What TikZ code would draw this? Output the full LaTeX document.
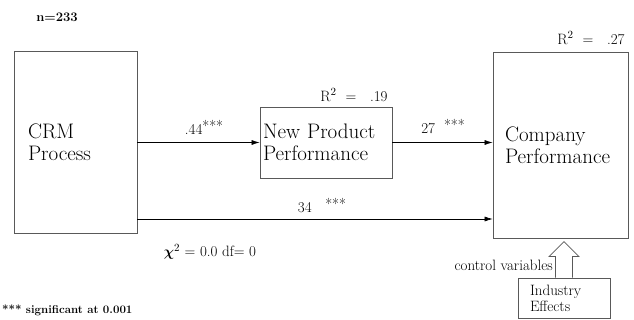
\documentclass[tikz,border=0pt]{standalone}
\usepackage{amsmath}
\usetikzlibrary{arrows.meta,positioning}

\newcommand{\stars}{\raisebox{3pt}{***}}

\begin{document}
\begin{tikzpicture}[x=1pt, y=-1pt,
    box/.style={draw=black!65, line width=0.8pt, align=left, inner sep=0pt, font=\rmfamily\fontsize{21}{22}\selectfont},
    lbl/.style={inner sep=0pt, font=\rmfamily\fontsize{15}{18}\selectfont},
    arr/.style={-{Latex[length=8pt,width=5pt]}, line width=0.6pt}]
    \useasboundingbox (0,0) rectangle (634,320);
    \node[box, minimum width=123pt, minimum height=182pt, text width=95pt] (crm) at (75.5,142) {CRM\\Process};
    \node[box, minimum width=132pt, minimum height=71pt, text width=126pt] (npp) at (326,142.5) {New Product\\Performance};
    \node[box, minimum width=135pt, minimum height=186pt, text width=111pt] (comp) at (560.5,145) {Company\\Performance};
    \node[box, minimum width=92pt, minimum height=40pt, text width=68pt, font=\rmfamily\fontsize{15}{16}\selectfont] (ind) at (564,298) {Industry\\Effects};
    \node[lbl, font=\rmfamily\bfseries\fontsize{13}{16}\selectfont] (nobs) at (57,17) {n=233};
    \node[lbl] (r19) at (354,95) {R$^2$ \ = \ \ .19};
    \node[lbl] (r27) at (591,38) {R$^2$ \ = \ \ .27};
    \node[lbl] (b44) at (204,127) {.44\stars};
    \node[lbl] (b27) at (443,127) {27\ \ \stars};
    \node[lbl] (b34) at (322,206) {34\ \ \ \stars};
    \node[lbl] (chi) at (210,252) {$\boldsymbol{\chi}^2$ = 0.0 df= 0};
    \node[lbl, anchor=east] (ctrl) at (553,265) {control variables};
    \node[lbl, anchor=west, font=\rmfamily\bfseries\fontsize{11.5}{14}\selectfont] (sig) at (2,310) {*** significant at 0.001};
    % paths
    \draw[arr] (crm.east |- npp.west) -- (npp.west);
    \draw[arr] (npp.east) -- (npp.east -| comp.west);
    \draw[arr] ([yshift=-77pt]crm.east) -- ([yshift=-77pt]crm.east -| comp.west);
    % control variables arrow
    \draw[draw=black!65, line width=0.8pt, fill=white] ([xshift=-8.5pt]ind.north) -- ++(0pt,21pt) -- ++(-6.5pt,0pt)
        -- ([yshift=36pt]ind.north) -- ([shift={(15pt,21pt)}]ind.north) -- ++(-6.5pt,0pt) -- ([xshift=8.5pt]ind.north);
\end{tikzpicture}
\end{document}
